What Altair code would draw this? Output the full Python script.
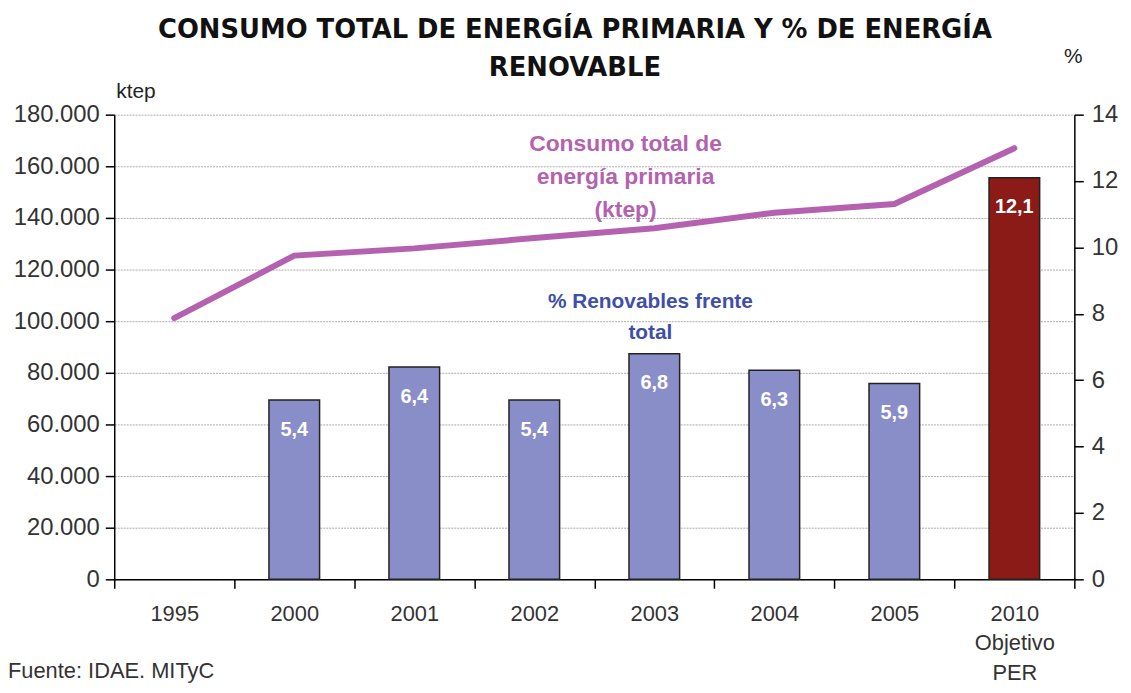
import altair as alt
import pandas as pd

years = ["1995", "2000", "2001", "2002", "2003", "2004", "2005", "2010 Objetivo PER"]
consumo = [101200, 125400, 128200, 132200, 136000, 142000, 145400, 167000]
pct = [None, 5.4, 6.4, 5.4, 6.8, 6.3, 5.9, 12.1]
left_ticks = [0, 20000, 40000, 60000, 80000, 100000, 120000, 140000, 160000, 180000]
right_ticks = [0, 2, 4, 6, 8, 10, 12, 14]

FONT = "Liberation Sans"
W, H = 967, 468

df = pd.DataFrame({"year": years, "consumo": consumo, "pct": pct})
bars_df = df.dropna(subset=["pct"])

x_enc = alt.X(
    "year:N", sort=years,
    scale=alt.Scale(paddingInner=0, paddingOuter=0),
    axis=alt.Axis(
        title=None, labelAngle=0, tickBand="extent", grid=False,
        domainColor="#000", domainWidth=1.5, tickColor="#000", tickWidth=1.5, tickSize=9,
        labelExpr="split(datum.label, ' ')", labelLineHeight=30,
        labelFont=FONT, labelFontSize=22, labelColor="#333", labelPadding=15,
    ),
)

line = alt.Chart(df).mark_line(color="#B462B0", strokeWidth=6, strokeCap="round").encode(
    x=x_enc,
    y=alt.Y(
        "consumo:Q",
        scale=alt.Scale(domain=[0, 180000], nice=False),
        axis=alt.Axis(
            orient="left", title=None, values=left_ticks,
            labelExpr="replace(format(datum.value, ','), ',', '.')",
            labelFont=FONT, labelFontSize=24, labelColor="#333", labelPadding=6,
            domainColor="#000", domainWidth=1.5, tickColor="#000", tickWidth=1.5, tickSize=9,
            grid=True, gridColor="#aaaaaa", gridDash=[2, 1], gridWidth=1,
        ),
    ),
)

bars = alt.Chart(bars_df).mark_bar(size=51, stroke="#222", strokeWidth=1.5).encode(
    x=x_enc,
    y=alt.Y(
        "pct:Q",
        scale=alt.Scale(domain=[0, 14], nice=False),
        axis=alt.Axis(
            orient="right", title=None, values=right_ticks,
            labelFont=FONT, labelFontSize=24, labelColor="#333", labelPadding=8,
            domainColor="#000", domainWidth=1.5, tickColor="#000", tickWidth=1.5, tickSize=9,
            grid=False,
        ),
    ),
    color=alt.condition(
        alt.datum.year == years[-1], alt.value("#8A1B16"), alt.value("#8A8EC8")
    ),
)

labels = alt.Chart(bars_df).transform_calculate(
    lab="replace(format(datum.pct, '.1f'), '.', ',')"
).mark_text(
    font=FONT, fontSize=20, fontWeight="bold", color="white", dy=30, baseline="middle"
).encode(
    x=x_enc,
    y=alt.Y("pct:Q", scale=alt.Scale(domain=[0, 14], nice=False), axis=None),
    text="lab:N",
)

ann_df = pd.DataFrame({"a": [0]})

def txt(text, x, y, size, color, bold=False, align="center", lh=33, font=FONT):
    return alt.Chart(ann_df).mark_text(
        text=text, font=font, fontSize=size, color=color,
        fontWeight="bold" if bold else "normal", align=align, baseline="middle",
        lineBreak="\n", lineHeight=lh,
    ).encode(x=alt.value(x), y=alt.value(y))

annots = [
    txt("CONSUMO TOTAL DE ENERGÍA PRIMARIA Y % DE ENERGÍA\nRENOVABLE", 464, -85, 26, "#111", True, "center", 38, "DejaVu Sans"),
    txt("Consumo total de\nenergía primaria\n(ktep)", 515, 30, 23, "#B462B0", True),
    txt("% Renovables frente\ntotal", 540, 189, 21, "#3F4FA8", True, "center", 31),
    txt("ktep", 2, -23, 21, "#222", False, "left"),
    txt("%", 966, -58, 21, "#222", False, "center"),
    txt("Fuente: IDAE. MITyC", -107, 560, 22, "#333", False, "left"),
]

chart = alt.layer(
    line, bars, labels, *annots
).resolve_scale(y="independent").properties(
    width=W, height=H,
    autosize=alt.AutoSizeParams(type="none"),
    padding={"left": 107, "top": 105, "right": 49, "bottom": 104},
).configure_view(stroke=None)

chart.save("out.html", embed_options={"renderer": "svg", "actions": False})
